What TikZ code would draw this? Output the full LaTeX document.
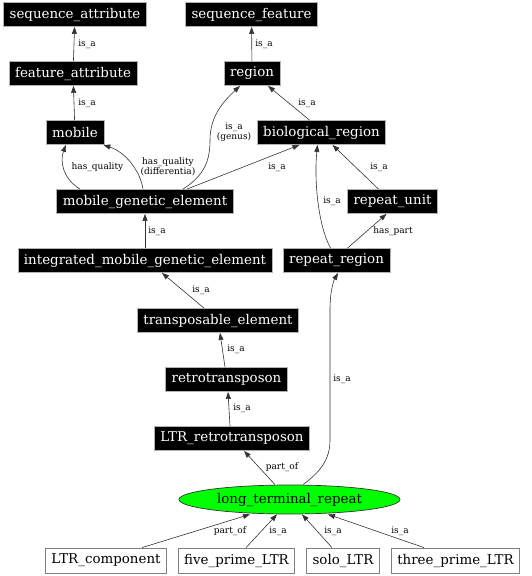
\documentclass[tikz,border=0pt]{standalone}
\usepackage{fontspec}
\setmainfont{DejaVu Serif}
\usetikzlibrary{shapes.geometric,arrows.meta}
\begin{document}
\begin{tikzpicture}[x=1pt,y=-1pt,
  nfont/.style={font=\fontsize{13.4}{15}\selectfont},
  blk/.style={nfont, draw=gray!60, fill=black, text=white, minimum height=24pt, inner xsep=6pt, inner ysep=0pt, line width=0.8pt},
  wht/.style={nfont, draw=gray, fill=white, text=black, minimum height=25pt, inner xsep=6pt, inner ysep=0pt, line width=0.8pt},
  ell/.style={nfont, ellipse, draw=black!80, fill=green, minimum width=221pt, minimum height=29pt, inner sep=0pt, line width=0.7pt},
  conn/.style={draw=black!80, line width=0.6pt, -{Triangle[length=7pt,width=5pt]}},
  lbl/.style={font=\fontsize{9}{10}\selectfont, inner sep=0pt, align=center}]
\useasboundingbox (0,0) rectangle (531,576);

% nodes
\node[blk] (sa) at (75,14.5) {sequence\_attribute};
\node[blk] (sf) at (251.5,14.5) {sequence\_feature};
\node[blk] (fa) at (73,73.5) {feature\_attribute};
\node[blk] (reg) at (252,73.5) {region};
\node[blk] (mob) at (75,132.5) {mobile};
\node[blk] (br) at (321.5,132.5) {biological\_region};
\node[blk] (mge) at (145,201.5) {mobile\_genetic\_element};
\node[blk] (ru) at (392.5,201.5) {repeat\_unit};
\node[blk] (img) at (145,260.5) {integrated\_mobile\_genetic\_element};
\node[blk] (rr) at (336.5,260.5) {repeat\_region};
\node[blk] (te) at (218,320.5) {transposable\_element};
\node[blk] (rt) at (226.5,379.5) {retrotransposon};
\node[blk] (ltrr) at (232,438.5) {LTR\_retrotransposon};
\node[ell] (ltr) at (289.5,499.5) {long\_terminal\_repeat};
\node[wht] (lc) at (106,560.5) {LTR\_component};
\node[wht] (fp) at (236.5,560.5) {five\_prime\_LTR};
\node[wht] (solo) at (343,560.5) {solo\_LTR};
\node[wht] (tp) at (455.5,560.5) {three\_prime\_LTR};

% connectors
\draw[conn] (fa) -- (sa);
\draw[conn] (reg) -- (sf);
\draw[conn] (mob) -- (fa);
\draw[conn] ([xshift=-12pt]br.north) -- ([xshift=16pt]reg.south);
\draw[conn] ([xshift=38pt]mge.north) .. controls (205,175) and (210,160) .. (210,140) .. controls (210,115) and (225,100) .. ([xshift=-12pt]reg.south);
\draw[conn] ([xshift=-65pt]mge.north) .. controls (62,178) and (60,160) .. ([xshift=-9pt]mob.south);
\draw[conn] ([xshift=-2pt]mge.north) .. controls (140,170) and (125,152) .. ([xshift=-1pt]mob.south east);
\draw[conn] ([xshift=42pt]mge.north) -- ([xshift=-22pt]br.south);
\draw[conn] ([xshift=-6pt]rr.north) .. controls (318,225) and (314,180) .. ([xshift=-4pt]br.south);
\draw[conn] ([xshift=-14pt]ru.north) -- ([xshift=11pt]br.south);
\draw[conn] ([xshift=11pt]rr.north) -- ([xshift=-6pt]ru.south);
\draw[conn] (img) -- (mge);
\draw[conn] ([xshift=-14pt]te.north) -- ([xshift=17pt]img.south);
\draw[conn] ([xshift=-1.5pt]rt.north) -- ([xshift=2pt]te.south);
\draw[conn] ([xshift=-2pt]ltrr.north) -- ([xshift=1.5pt]rt.south);
\draw[conn] ([xshift=-14.5pt]ltr.north) -- ([xshift=12pt]ltrr.south);
\draw[conn] ([xshift=13.5pt]ltr.north) .. controls (320,472) and (330,460) .. (330,440) -- (330,310) .. controls (330,290) and (334,280) .. ([xshift=1.5pt]rr.south);
\draw[conn] ([xshift=36pt]lc.north) -- ([xshift=-39.5pt]ltr.south);
\draw[conn] ([xshift=9.5pt]fp.north) -- ([xshift=-12.5pt]ltr.south);
\draw[conn] ([xshift=-11pt]solo.north) -- ([xshift=12.5pt]ltr.south);
\draw[conn] ([xshift=-31.5pt]tp.north) -- ([xshift=38.5pt]ltr.south);

% labels
\node[lbl] (l1) at (87,44) {is\_a};
\node[lbl] (l2) at (264,44) {is\_a};
\node[lbl] (l3) at (87,103) {is\_a};
\node[lbl] (l4) at (307,103) {is\_a};
\node[lbl] (l5) at (234,132) {is\_a\\(genus)};
\node[lbl] (l6) at (97.5,167) {has\_quality};
\node[lbl] (l7) at (168,167) {has\_quality\\(differentia)};
\node[lbl] (l8) at (277,167) {is\_a};
\node[lbl] (l9) at (379,167) {is\_a};
\node[lbl] (l10) at (332,201) {is\_a};
\node[lbl] (l11) at (157,231) {is\_a};
\node[lbl] (l12) at (393,231) {has\_part};
\node[lbl] (l13) at (201,290) {is\_a};
\node[lbl] (l14) at (236,349) {is\_a};
\node[lbl] (l15) at (242,408) {is\_a};
\node[lbl] (l16) at (342,379) {is\_a};
\node[lbl] (l17) at (282,467) {part\_of};
\node[lbl] (l18) at (230,531) {part\_of};
\node[lbl] (l19) at (278,531) {is\_a};
\node[lbl] (l20) at (333,531) {is\_a};
\node[lbl] (l21) at (400,531) {is\_a};
\end{tikzpicture}
\end{document}
